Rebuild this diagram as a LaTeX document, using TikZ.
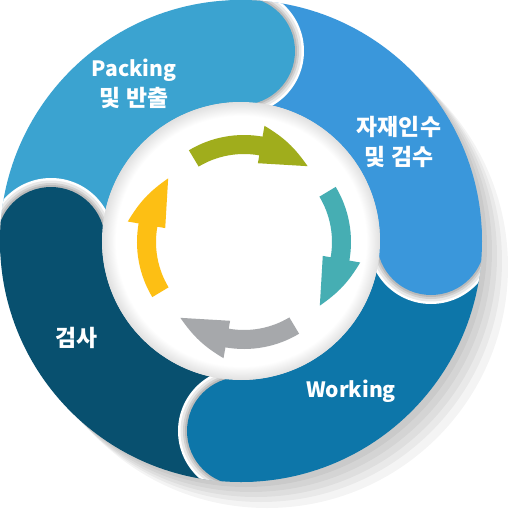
\documentclass[tikz,border=0pt]{standalone}
\usepackage{fontspec}
\setmainfont{Noto Sans CJK KR}

\definecolor{packcol}{HTML}{3BA3D0}
\definecolor{inboundcol}{HTML}{3A97DB}
\definecolor{workcol}{HTML}{0D76A9}
\definecolor{checkcol}{HTML}{08506F}
\definecolor{arrgreen}{HTML}{A0AD1C}
\definecolor{arrteal}{HTML}{46AEB3}
\definecolor{arrgray}{HTML}{A6A8AB}
\definecolor{arryellow}{HTML}{FDBF14}

\pgfdeclareradialshading{innerrim}{\pgfpoint{0bp}{0bp}}{color(0bp)=(white); color(22.5bp)=(white); color(25bp)=(black!12); color(50bp)=(black!12)}

\newcommand{\latinfont}{\fontsize{12}{17}\selectfont}

\tikzset{
	segment/.style={fill=#1},
	label text/.style={text=white, font=\bfseries\fontsize{13}{17}\selectfont, align=center},
	ring shadow/.style={fill=black, opacity=.045}
}

% rounded end of a ring part, laid over the next part
\newcommand{\segcap}[2]{%
	\begin{scope}
		\clip (0,0) circle[radius=241];
		\clip (0,0) -- (#1:300) arc[start angle=#1, end angle=#1-80, radius=300] -- cycle;
		\fill[white] (#1:190) circle[radius=63];
		\fill[black!9] (#1:190) circle[radius=60.5];
		\fill[black!18] (#1:190) circle[radius=58];
		\fill[black!27] (#1:190) circle[radius=56];
	\end{scope}
	\begin{scope}
		\clip (0,0) circle[radius=241];
		\clip (0,0) -- (#1+3:300) arc[start angle=#1+3, end angle=#1-80, radius=300] -- cycle;
		\fill[#2] (#1:190) circle[radius=54];
	\end{scope}}

% curved arrow of the inner cycle
\newcommand{\cyclearrow}[2]{%
	\fill[#2] (#1:107) arc[start angle=#1, end angle=#1-41, radius=107]
		-- (#1-41:118) to[bend left=12] (#1-71:99)
		-- (#1-41:80) -- (#1-41:88)
		arc[start angle=#1-41, end angle=#1, radius=88] -- cycle;}

\begin{document}
\begin{tikzpicture}[x=0.02cm, y=0.02cm]

		\useasboundingbox[fill=white] (-241,-270) rectangle (270,241);

		% shadow of the ring
		\fill[ring shadow] (5,-5) circle[radius=241];
		\fill[ring shadow] (10,-10) circle[radius=241];
		\fill[ring shadow] (15,-15) circle[radius=241];
		\fill[ring shadow] (20,-20) circle[radius=241];
		\fill[ring shadow] (26,-26) circle[radius=241];

		%% Ring parts %%
		% Packing
		\fill[segment=packcol] (180:241) arc[start angle=180, end angle=90, radius=241]
			-- (90:139) arc[start angle=90, end angle=180, radius=139] -- cycle;
		% incoming material
		\fill[segment=inboundcol] (90:241) arc[start angle=90, end angle=0, radius=241]
			-- (0:139) arc[start angle=0, end angle=90, radius=139] -- cycle;
		% Working
		\fill[segment=workcol] (0:241) arc[start angle=0, end angle=-90, radius=241]
			-- (-90:139) arc[start angle=-90, end angle=0, radius=139] -- cycle;
		% inspection
		\fill[segment=checkcol] (-90:241) arc[start angle=-90, end angle=-180, radius=241]
			-- (-180:139) arc[start angle=-180, end angle=-90, radius=139] -- cycle;

		% rounded ends
		\segcap{90}{packcol}
		\segcap{0}{inboundcol}
		\segcap{-90}{workcol}
		\segcap{180}{checkcol}

		% inner disc
		\shade[shading=innerrim] (0,0) circle[radius=139];

		%% Inner cycle %%
		\begin{scope}[shift={(3,-1)}]
			\cyclearrow{121}{arrgreen}
			\cyclearrow{31}{arrteal}
			\cyclearrow{-59}{arrgray}
			\cyclearrow{-149}{arryellow}
		\end{scope}

		% labels
		\node[label text] (packing) at (-107,157) {{\latinfont Packing}\\및 반출};
		\node[label text] (inbound) at (158,99) {자재인수\\및 검수};
		\node[label text] (check) at (-164,-97) {검사};
		\node[label text] (working) at (110,-150) {\latinfont Working};

	\end{tikzpicture}
\end{document}
